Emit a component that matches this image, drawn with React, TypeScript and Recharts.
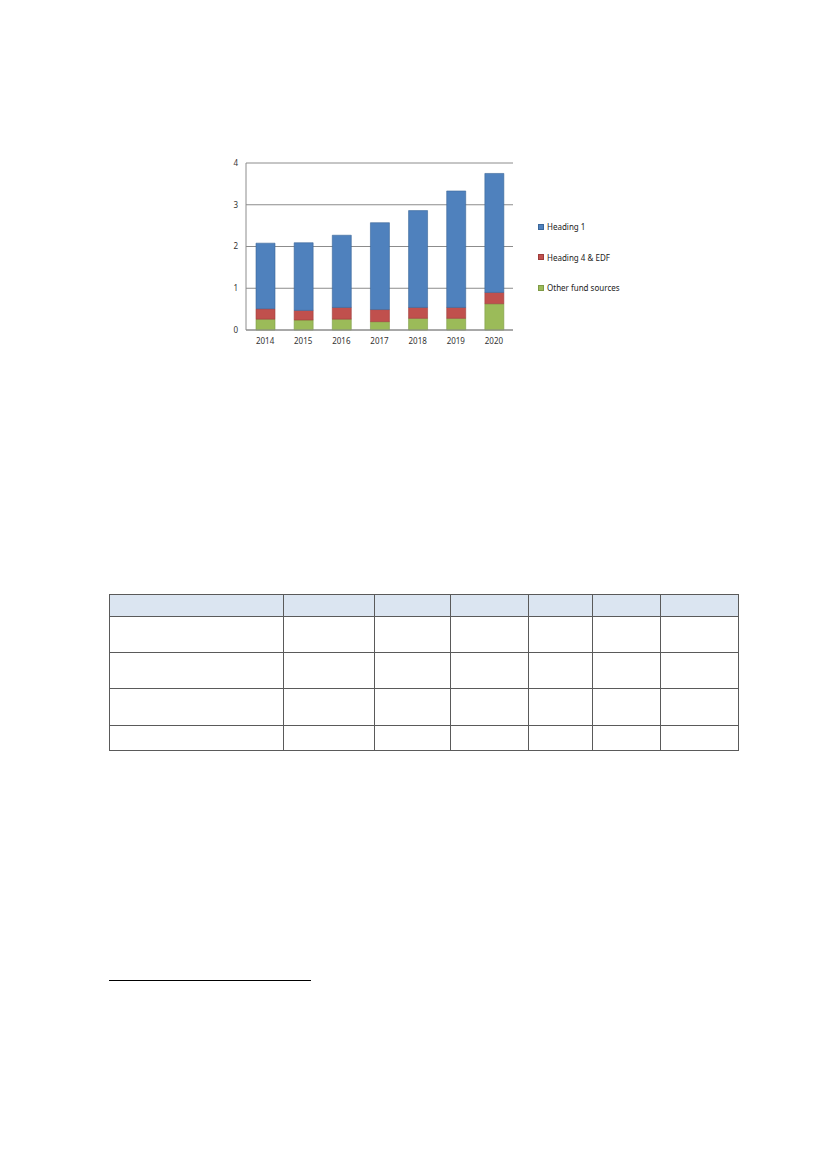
import { BarChart, Bar, XAxis, YAxis, CartesianGrid } from "recharts";

const years = ["2014", "2015", "2016", "2017", "2018", "2019", "2020"];
const otherFunds = [0.26, 0.24, 0.26, 0.2, 0.28, 0.28, 0.63];
const heading4 = [0.25, 0.23, 0.28, 0.29, 0.26, 0.26, 0.27];
const heading1 = [1.57, 1.62, 1.73, 2.08, 2.32, 2.79, 2.85];
const yTicks = [0, 1, 2, 3, 4];

const series = [
  { key: "other", name: "Other fund sources", values: otherFunds, fill: "#9bbb59", stroke: "#7e9a45" },
  { key: "h4", name: "Heading 4 & EDF", values: heading4, fill: "#c0504d", stroke: "#9d3c3a" },
  { key: "h1", name: "Heading 1", values: heading1, fill: "#4f81bd", stroke: "#3a6699" },
];

const data = years.map((year, i) => {
  const row: Record<string, string | number> = { year };
  series.forEach((s) => {
    row[s.key] = s.values[i];
  });
  return row;
});

// table geometry taken from the page layout
const colWidths = [174, 91, 76, 78, 64, 68, 78];
const rowHeights = [22, 36, 36, 37, 25];

const font = "'Noto Sans', 'DejaVu Sans', sans-serif";

function LegendBox() {
  return (
    <div style={{ position: "absolute", left: 538, top: 222, fontFamily: font, fontSize: 8, color: "#222" }}>
      {[...series].reverse().map((s) => (
        <div key={s.key} style={{ display: "flex", alignItems: "center", height: 9, marginBottom: 21.5 }}>
          <span
            style={{
              width: 6,
              height: 6,
              background: s.fill,
              border: `0.5px solid ${s.stroke}`,
              marginRight: 3,
              boxSizing: "border-box",
            }}
          />
          <span>{s.name}</span>
        </div>
      ))}
    </div>
  );
}

export default function App() {
  return (
    <div style={{ position: "absolute", left: 0, top: 0, width: 827, height: 1169, background: "#fff" }}>
      <div style={{ position: "absolute", left: 200, top: 150 }}>
        <BarChart
          width={330}
          height={210}
          data={data}
          margin={{ top: 13, right: 17, bottom: 10, left: 0 }}
          barSize={19}
        >
          <CartesianGrid vertical={false} stroke="#8c8c8c" strokeWidth={1} />
          <XAxis
            dataKey="year"
            height={20}
            tickLine={false}
            axisLine={{ stroke: "#8c8c8c" }}
            tick={{ fontSize: 8, fill: "#333", fontFamily: font }}
          />
          <YAxis
            width={46}
            domain={[0, 4]}
            ticks={yTicks}
            tickLine={false}
            axisLine={{ stroke: "#8c8c8c" }}
            tick={{ fontSize: 8, fill: "#333", fontFamily: font }}
          />
          {series.map((s) => (
            <Bar
              key={s.key}
              dataKey={s.key}
              name={s.name}
              stackId="a"
              fill={s.fill}
              stroke={s.stroke}
              strokeWidth={0.6}
              isAnimationActive={false}
            />
          ))}
        </BarChart>
      </div>
      <LegendBox />

      <table
        style={{
          position: "absolute",
          left: 109,
          top: 594,
          borderCollapse: "collapse",
          tableLayout: "fixed",
        }}
      >
        <tbody>
          {rowHeights.map((h, r) => (
            <tr key={r} style={{ height: h }}>
              {colWidths.map((w, c) => (
                <td
                  key={c}
                  style={{
                    width: w,
                    padding: 0,
                    border: "1px solid #5a5a5a",
                    background: r === 0 ? "#dbe5f1" : "#fff",
                    boxSizing: "border-box",
                  }}
                />
              ))}
            </tr>
          ))}
        </tbody>
      </table>

      <div style={{ position: "absolute", left: 109, top: 980, width: 202, height: 1, background: "#000" }} />
    </div>
  );
}
